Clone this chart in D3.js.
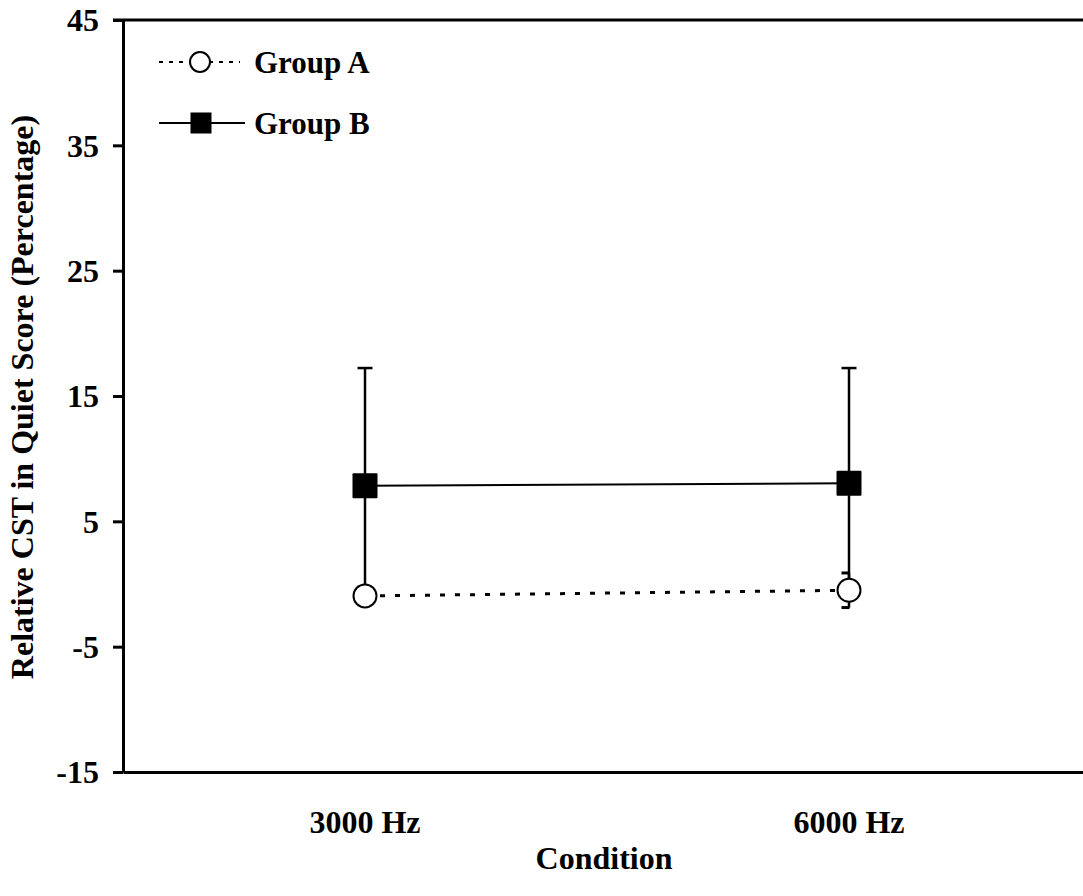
<!DOCTYPE html>
<html>
<head>
<meta charset="utf-8">
<script src="https://cdn.jsdelivr.net/npm/d3@7"></script>
<style>
  body { margin: 0; background: #fff; }
  svg text { font-family: "Liberation Serif", "Times New Roman", serif; font-weight: bold; fill: #000; }
</style>
</head>
<body>
<svg id="chart" width="1083" height="896"></svg>
<script>
// data
var conditions = ["3000 Hz", "6000 Hz"];
var groupAMean = [-0.95, -0.5];
var groupAErr  = [0.7, 1.38];
var groupBMean = [7.83, 8.03];
var groupBErr  = [9.4, 9.2];
var yTicks = [-15, -5, 5, 15, 25, 35, 45];

var svg = d3.select("#chart");
var plotLeft = 123, plotRight = 1091, plotTop = 20, plotBottom = 772;

var x = d3.scaleBand().domain(conditions).range([plotLeft, plotRight]);
var y = d3.scaleLinear().domain([-15, 45]).range([plotBottom, plotTop]);
function cx(c) { return x(c) + x.bandwidth() / 2; }

// Y axis
var yAxis = svg.append("g")
  .attr("transform", "translate(" + plotLeft + ",0)")
  .call(d3.axisLeft(y).tickValues(yTicks).tickSize(10).tickSizeOuter(0).tickPadding(14).tickFormat(function(d) { return d; }));
yAxis.select(".domain").attr("stroke-width", 3);
yAxis.selectAll(".tick line").attr("stroke-width", 3);
yAxis.selectAll(".tick text").attr("font-size", 32).attr("dy", "0.34em");

// X axis
var xAxis = svg.append("g")
  .attr("transform", "translate(0," + plotBottom + ")")
  .call(d3.axisBottom(x).tickSize(0).tickSizeOuter(0).tickPadding(38));
xAxis.select(".domain").attr("stroke-width", 3);
xAxis.selectAll(".tick text").attr("font-size", 32);

// top border
svg.append("line")
  .attr("x1", plotLeft - 10).attr("x2", plotRight)
  .attr("y1", plotTop).attr("y2", plotTop)
  .attr("stroke", "#000").attr("stroke-width", 3);

// axis titles
svg.append("text")
  .attr("x", (plotLeft + plotRight) / 2 - 3)
  .attr("y", 869)
  .attr("text-anchor", "middle")
  .attr("font-size", 32)
  .text("Condition");

svg.append("text")
  .attr("transform", "translate(33,397) rotate(-90)")
  .attr("text-anchor", "middle")
  .attr("font-size", 32)
  .text("Relative CST in Quiet Score (Percentage)");

// Group B error bars (solid)
conditions.forEach(function(c, i) {
  var px = cx(c);
  svg.append("line")
    .attr("x1", px).attr("x2", px)
    .attr("y1", y(groupBMean[i] - groupBErr[i])).attr("y2", y(groupBMean[i] + groupBErr[i]))
    .attr("stroke", "#000").attr("stroke-width", 2.5);
  [-1, 1].forEach(function(s) {
    var v = groupBMean[i] + s * groupBErr[i];
    svg.append("line")
      .attr("x1", px - 7.5).attr("x2", px + 7.5)
      .attr("y1", y(v)).attr("y2", y(v))
      .attr("stroke", "#000").attr("stroke-width", 2.5);
  });
});

// Group A error bars (dashed caps)
conditions.forEach(function(c, i) {
  var px = cx(c);
  svg.append("line")
    .attr("x1", px).attr("x2", px)
    .attr("y1", y(groupAMean[i] - groupAErr[i])).attr("y2", y(groupAMean[i] + groupAErr[i]))
    .attr("stroke", "#000").attr("stroke-width", 2.5);
  [-1, 1].forEach(function(s) {
    var v = groupAMean[i] + s * groupAErr[i];
    svg.append("line")
      .attr("x1", px - 7.5).attr("x2", px + 7.5)
      .attr("y1", y(v)).attr("y2", y(v))
      .attr("stroke", "#000").attr("stroke-width", 3)
      .attr("stroke-dasharray", "8,10");
  });
});

// series lines
var line = d3.line().x(function(d, i) { return cx(conditions[i]); }).y(function(d) { return y(d); });

svg.append("path")
  .datum(groupAMean)
  .attr("d", line)
  .attr("fill", "none")
  .attr("stroke", "#000").attr("stroke-width", 3)
  .attr("stroke-dasharray", "5,10");

svg.append("path")
  .datum(groupBMean)
  .attr("d", line)
  .attr("fill", "none")
  .attr("stroke", "#000").attr("stroke-width", 2);

// markers
svg.selectAll(".ptA")
  .data(groupAMean)
  .enter().append("circle")
  .attr("class", "ptA")
  .attr("cx", function(d, i) { return cx(conditions[i]); })
  .attr("cy", function(d) { return y(d); })
  .attr("r", 11.5)
  .attr("fill", "#fff").attr("stroke", "#000").attr("stroke-width", 2);

svg.selectAll(".ptB")
  .data(groupBMean)
  .enter().append("rect")
  .attr("class", "ptB")
  .attr("x", function(d, i) { return cx(conditions[i]) - 12.5; })
  .attr("y", function(d) { return y(d) - 12.5; })
  .attr("width", 25).attr("height", 25)
  .attr("rx", 1)
  .attr("fill", "#000");

// legend
var legend = svg.append("g");
legend.append("line")
  .attr("x1", 159).attr("x2", 240).attr("y1", 62).attr("y2", 62)
  .attr("stroke", "#000").attr("stroke-width", 2)
  .attr("stroke-dasharray", "4,6");
legend.append("circle")
  .attr("cx", 200).attr("cy", 62).attr("r", 10)
  .attr("fill", "#fff").attr("stroke", "#000").attr("stroke-width", 2);
legend.append("text")
  .attr("x", 254).attr("y", 73)
  .attr("font-size", 31)
  .text("Group A");

legend.append("line")
  .attr("x1", 159).attr("x2", 245).attr("y1", 123).attr("y2", 123)
  .attr("stroke", "#000").attr("stroke-width", 2);
legend.append("rect")
  .attr("x", 190.5).attr("y", 112.5).attr("width", 21).attr("height", 21)
  .attr("fill", "#000");
legend.append("text")
  .attr("x", 254).attr("y", 134)
  .attr("font-size", 31)
  .text("Group B");
</script>
</body>
</html>
